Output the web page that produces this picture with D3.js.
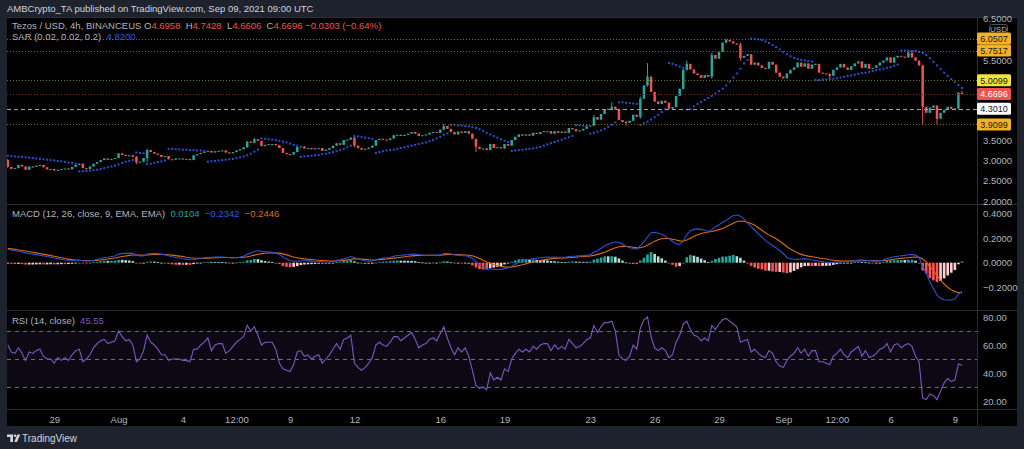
<!DOCTYPE html>
<html><head><meta charset="utf-8">
<script src="https://cdn.jsdelivr.net/npm/d3@7"></script>
<style>
html,body{margin:0;padding:0;background:#1e222d;}
svg{display:block;}
</style></head><body>
<svg id="c" width="1024" height="449"></svg>
<script>
// ---------------- DATA ----------------
const startTime = Date.UTC(2021, 6, 26, 20); // first 4h candle
const firstOpen = 3.02;
const closes = [
2.85,2.80,2.82,2.90,2.86,2.78,2.86,2.85,2.88,2.90,
2.84,2.79,2.80,2.76,2.78,2.80,2.81,2.79,2.85,2.90,
2.93,2.82,2.80,2.86,2.93,2.97,3.02,3.06,3.03,3.05,
3.07,3.19,3.15,3.12,3.14,3.10,2.96,2.98,3.07,3.27,
3.22,3.18,3.15,3.10,3.12,3.04,3.03,3.06,3.06,3.04,
3.05,3.02,3.14,3.17,3.20,3.23,3.25,3.21,3.24,3.25,
3.26,3.21,3.19,3.22,3.26,3.29,3.34,3.48,3.45,3.54,
3.50,3.37,3.40,3.42,3.42,3.39,3.32,3.20,3.17,3.16,
3.22,3.35,3.36,3.31,3.32,3.29,3.31,3.32,3.25,3.28,
3.32,3.38,3.44,3.40,3.52,3.53,3.58,3.38,3.32,3.28,
3.30,3.33,3.38,3.52,3.55,3.53,3.52,3.56,3.64,3.65,
3.62,3.65,3.68,3.72,3.68,3.62,3.64,3.66,3.70,3.72,
3.70,3.78,3.87,3.80,3.72,3.66,3.73,3.70,3.74,3.68,
3.55,3.35,3.30,3.31,3.27,3.42,3.32,3.34,3.31,3.42,
3.38,3.52,3.60,3.66,3.63,3.66,3.63,3.70,3.67,3.72,
3.74,3.74,3.68,3.74,3.70,3.73,3.70,3.82,3.79,3.74,
3.76,3.80,3.86,3.88,4.09,4.03,4.17,4.28,4.30,4.35,
4.28,4.02,3.97,3.95,4.00,4.15,4.10,4.55,4.88,5.10,
4.72,4.48,4.42,4.50,4.45,4.30,4.34,4.62,4.80,5.27,
5.42,5.28,5.18,5.14,5.07,5.14,5.10,5.64,5.55,5.72,
5.95,6.02,5.98,5.93,5.90,5.57,5.62,5.66,5.40,5.45,
5.38,5.32,5.30,5.47,5.40,5.20,5.10,5.06,5.18,5.27,
5.33,5.45,5.35,5.43,5.30,5.40,5.42,5.20,5.18,5.17,
5.12,5.27,5.33,5.42,5.33,5.27,5.36,5.43,5.48,5.32,
5.42,5.30,5.32,5.38,5.45,5.50,5.58,5.45,5.58,5.62,
5.60,5.58,5.70,5.58,5.50,5.38,4.35,4.20,4.33,4.38,
4.05,4.20,4.27,4.35,4.30,4.31,4.6958,4.6696];
// notable wicks: [candle index, high, low]
const wicks = [
[0,3.05,2.83],[36,3.12,2.92],[39,3.30,2.97],[67,3.50,3.33],[69,3.58,3.44],
[97,3.60,3.34],[122,3.92,3.78],[131,3.55,3.22],[164,4.15,3.87],[169,4.46,4.28],
[173,4.00,3.88],[177,4.60,4.05],[179,5.44,4.85],[189,5.30,4.78],[190,5.50,5.25],
[197,5.70,5.05],[201,6.0507,5.93],[205,5.95,5.50],[230,5.18,5.05],[252,5.7517,5.58],
[256,5.40,3.91],[260,4.38,3.9099],[266,4.72,4.28],[267,4.7428,4.6606]];
const sar = [
3.13,3.12,3.11,3.10,3.10,3.09,3.08,3.07,3.06,3.05,3.04,3.03,3.02,3.01,3.00,2.99,2.97,2.96,2.95,2.93,
2.74,2.74,2.75,2.76,2.77,2.78,2.80,2.82,2.84,2.86,2.88,2.91,2.95,2.98,3.00,3.02,
3.21,3.20,3.19,
2.92,2.93,2.95,2.97,2.99,3.01,
3.30,3.30,3.29,3.29,3.28,3.28,3.27,3.27,3.26,3.26,3.25,
2.98,2.99,3.00,3.01,3.02,3.03,3.04,3.05,3.07,3.09,3.11,3.14,3.18,3.23,3.28,
3.56,3.55,3.54,3.53,3.52,3.50,3.48,3.46,3.43,3.40,3.38,
3.10,3.11,3.12,3.13,3.14,3.15,3.17,3.18,3.20,3.22,3.24,3.27,3.30,3.34,3.38,
3.62,3.61,3.60,3.58,3.57,3.55,
3.20,3.22,3.24,3.26,3.27,3.28,3.30,3.32,3.34,3.36,3.38,3.40,3.42,3.44,3.46,3.49,3.52,3.56,3.60,3.65,3.68,
3.90,3.90,3.89,3.88,3.87,3.86,3.84,3.82,3.79,3.75,3.70,3.66,3.62,3.58,3.54,3.50,3.47,
3.25,3.26,3.27,3.28,3.29,3.30,3.31,3.33,3.35,3.38,3.41,3.44,3.47,3.50,3.53,3.56,3.59,3.62,
3.89,3.89,3.88,3.88,
3.68,3.70,3.73,3.76,3.80,3.85,3.90,3.96,
4.46,4.46,4.45,4.44,4.43,4.42,
3.90,3.94,3.98,4.03,4.09,4.15,4.22,4.29,
5.44,5.42,5.39,5.35,5.32,
4.28,4.30,4.36,4.42,4.47,4.52,4.57,4.62,4.68,4.74,4.80,4.88,4.98,5.08,5.18,5.30,5.43,5.52,
6.05,6.04,6.03,6.01,5.98,5.94,5.89,5.84,5.78,5.72,5.66,5.61,5.57,5.54,5.52,5.50,5.49,5.48,
5.02,5.02,5.03,5.03,5.04,5.05,5.06,5.08,5.10,5.12,5.13,5.15,5.17,5.19,5.20,5.22,5.24,5.26,5.28,5.30,5.32,5.34,5.37,5.40,
5.75,5.75,5.75,5.74,5.74,5.72,5.69,5.64,5.56,5.47,5.38,5.29,5.20,5.12,5.04,4.97,4.89,4.82];
const macdLine = [
.110,.104,.098,.094,.088,.080,.075,.070,.066,.062,
.056,.050,.045,.038,.033,.028,.022,.018,.016,.018,
.020,.016,.014,.016,.020,.026,.034,.042,.045,.050,
.055,.068,.074,.076,.078,.076,.062,.055,.056,.070,
.075,.076,.074,.068,.064,.056,.048,.042,.038,.032,
.028,.024,.026,.030,.034,.040,.044,.045,.046,.047,
.046,.044,.040,.040,.042,.046,.052,.068,.078,.092,
.098,.094,.090,.088,.084,.078,.068,.045,.030,.018,
.012,.012,.016,.016,.015,.013,.012,.012,.008,.006,
.008,.013,.020,.023,.032,.040,.050,.042,.032,.022,
.016,.013,.014,.024,.032,.037,.040,.045,.053,.059,
.061,.064,.067,.071,.070,.065,.062,.060,.061,.062,
.061,.065,.075,.076,.071,.063,.062,.058,.057,.050,
.035,.008,-.018,-.035,-.050,-.050,-.055,-.056,-.057,-.048,
-.043,-.028,-.012,.004,.013,.022,.026,.033,.036,.041,
.045,.047,.045,.046,.044,.044,.045,.050,.053,.054,
.057,.058,.060,.064,.085,.100,.118,.138,.150,.163,
.171,.165,.150,.135,.122,.116,.110,.140,.170,.210,
.245,.248,.240,.232,.215,.195,.175,.152,.150,.175,
.230,.262,.272,.276,.272,.265,.255,.270,.292,.310,
.330,.345,.365,.385,.389,.380,.355,.325,.294,.265,
.235,.210,.180,.160,.140,.120,.100,.075,.045,.033,
.028,.027,.030,.033,.028,.022,.018,.012,.008,.004,
.000,.002,.005,.008,.008,.008,.012,.018,.022,.022,
.020,.018,.014,.013,.015,.022,.035,.043,.048,.053,
.057,.060,.065,.068,.062,.043,-.033,-.085,-.155,-.210,
-.264,-.290,-.302,-.304,-.304,-.296,-.256,-.2342];
const signalLine = [
.117,.113,.109,.104,.100,.095,.090,.085,.080,.075,
.070,.064,.058,.052,.046,.040,.034,.029,.025,.022,
.020,.018,.016,.016,.017,.019,.022,.026,.030,.034,
.038,.044,.050,.055,.060,.063,.063,.062,.061,.063,
.065,.067,.068,.068,.067,.065,.062,.058,.054,.050,
.045,.041,.038,.036,.035,.036,.037,.038,.040,.041,
.042,.042,.042,.041,.041,.042,.044,.049,.055,.062,
.069,.074,.077,.079,.080,.080,.078,.072,.064,.055,
.046,.040,.035,.031,.028,.025,.022,.020,.018,.016,
.014,.014,.015,.016,.019,.023,.028,.031,.031,.029,
.027,.024,.022,.023,.025,.027,.030,.033,.037,.041,
.045,.048,.052,.056,.058,.060,.060,.060,.061,.061,
.061,.062,.064,.067,.068,.067,.066,.064,.063,.061,
.056,.047,.034,.020,.006,-.005,-.015,-.023,-.030,-.034,
-.036,-.035,-.030,-.023,-.016,-.008,-.001,.006,.012,.018,
.023,.028,.031,.034,.036,.038,.039,.041,.043,.045,
.049,.051,.053,.055,.060,.068,.076,.086,.098,.110,
.122,.130,.133,.133,.130,.126,.121,.122,.130,.142,
.158,.176,.188,.196,.198,.198,.192,.185,.178,.175,
.185,.200,.215,.228,.238,.245,.250,.255,.262,.270,
.280,.294,.308,.322,.336,.340,.338,.330,.320,.305,
.285,.265,.245,.225,.212,.195,.175,.155,.130,.112,
.095,.080,.068,.060,.054,.049,.044,.039,.034,.030,
.024,.020,.017,.015,.014,.013,.013,.014,.015,.016,
.017,.017,.017,.016,.016,.017,.020,.024,.028,.032,
.035,.038,.041,.044,.046,.045,.030,.005,-.030,-.066,
-.105,-.142,-.174,-.200,-.222,-.236,-.243,-.2446];
const rsi = [
60,55,54,58,54,49,55,54,56,57, 52,50,50,47,51,49,51,49,53,56,
57,48,50,53,58,61,63,64,61,62, 63,70,66,63,64,60,48,50,56,67,
62,60,57,53,53,49,50,50,50,49, 49,48,57,57,60,62,65,56,60,61,
61,54,56,59,62,64,66,74,70,73, 67,60,62,62,62,57,47,43,42,41,
46,55,56,52,53,50,52,53,47,50, 53,57,61,57,64,65,67,47,44,42,
44,47,51,60,62,60,59,62,66,66, 63,65,67,69,64,58,60,61,64,65,
63,68,73,65,58,53,58,55,58,52, 42,31,29,30,28,40,35,37,35,43,
41,50,54,57,55,57,55,59,57,60, 61,61,56,60,57,59,57,64,61,58,
59,61,64,65,74,69,73,76,76,77, 70,53,50,49,52,60,57,72,78,80,
66,58,56,58,56,51,53,62,67,75, 77,71,67,66,63,65,63,74,71,75,
78,79,77,75,73,62,63,64,55,57, 54,52,51,56,54,48,45,44,49,52,
54,58,54,57,52,56,56,48,48,47, 46,52,54,57,53,51,55,57,59,52,
56,51,52,54,57,58,61,55,60,61, 58,60,61,59,52,48,22,21,25,24,
21,27,33,36,34,35,46.4,45.55];
const levelValues = [6.0507, 5.7517, 5.0099, 3.9099];
const markerValue = 4.3010;
const lastPrice = 4.6696;
const priceTicks = [2, 2.5, 3, 3.5, 4, 4.5, 5, 5.5, 6, 6.5];
const macdTicks = [-0.2, 0, 0.2, 0.4];
const rsiTicks = [20, 40, 60, 80];
const rsiBands = [70, 50, 30];
const timeTickDates = ["2021-07-29T00:00Z","2021-08-01T00:00Z","2021-08-04T00:00Z","2021-08-06T12:00Z","2021-08-09T00:00Z","2021-08-12T00:00Z","2021-08-16T00:00Z","2021-08-19T00:00Z","2021-08-23T00:00Z","2021-08-26T00:00Z","2021-08-29T00:00Z","2021-09-01T00:00Z","2021-09-03T12:00Z","2021-09-06T00:00Z","2021-09-09T00:00Z"];
const timeTickLabels = ["29","Aug","4","12:00","9","12","16","19","23","26","29","Sep","12:00","6","9"];

// ---------------- LAYOUT / STYLE ----------------
const W = 1024, H = 449;
const PL = 7, PR = 977, AXR = 1017;
const T0 = 17, B1 = 204, B2 = 310, B3 = 409, B4 = 426;
const UP = "#26a69a", DN = "#ef5350";
const FONT = "'Liberation Sans Narrow','Liberation Sans',Arial,sans-serif";
const FS = 9.5;
const TXT = "#b2b5be";

const svg = d3.select("#c");
svg.append("rect").attr("width", W).attr("height", H).attr("fill", "#1e222d");
svg.append("rect").attr("x", PL).attr("y", T0).attr("width", AXR - PL).attr("height", B4 - T0).attr("fill", "#000");

const defs = svg.append("defs");
[[1, T0, B1], [2, B1, B2], [3, B2, B3]].forEach(([k, a, b]) => {
  defs.append("clipPath").attr("id", "cp" + k).append("rect")
    .attr("x", PL).attr("y", a).attr("width", PR - PL).attr("height", b - a);
});

const n = closes.length;
const dates = closes.map((_, i) => new Date(startTime + i * 4 * 3600e3));
const opens = closes.map((c, i) => i ? closes[i - 1] : firstOpen);
const wm = new Map(wicks.map(w => [w[0], w]));
const highs = closes.map((c, i) => wm.has(i) ? wm.get(i)[1] : Math.max(c, opens[i]));
const lows = closes.map((c, i) => wm.has(i) ? wm.get(i)[2] : Math.min(c, opens[i]));

const x = d3.scaleUtc().domain([dates[0], dates[n - 1]]).range([7.75, 962]);
const yP = d3.scaleLinear().domain([2, 6.5]).range([201, 20.55]);
const yM = d3.scaleLinear().domain([-0.2, 0.4]).range([287.2, 213.7]);
const yR = d3.scaleLinear().domain([20, 80]).range([401, 317]);

// separators
const sep = svg.append("g").attr("stroke", "#2a2e39").attr("stroke-width", 1);
[T0 + 0.5, B1 + 0.5, B2 + 0.5, B3 + 0.5].forEach(y => sep.append("line").attr("x1", PL).attr("x2", AXR).attr("y1", y).attr("y2", y));
sep.append("line").attr("x1", PR + 0.5).attr("x2", PR + 0.5).attr("y1", T0).attr("y2", B4);

// ---------- price pane ----------
const gP = svg.append("g").attr("clip-path", "url(#cp1)");
const bw = 2.5;
gP.selectAll("line.wk").data(d3.range(n)).join("line")
  .attr("x1", i => x(dates[i])).attr("x2", i => x(dates[i]))
  .attr("y1", i => yP(highs[i])).attr("y2", i => yP(lows[i]))
  .attr("stroke", i => closes[i] >= opens[i] ? UP : DN).attr("stroke-width", 1);
gP.selectAll("rect.bd").data(d3.range(n)).join("rect")
  .attr("x", i => x(dates[i]) - bw / 2).attr("width", bw)
  .attr("y", i => yP(Math.max(opens[i], closes[i])))
  .attr("height", i => Math.max(1, Math.abs(yP(opens[i]) - yP(closes[i]))))
  .attr("fill", i => closes[i] >= opens[i] ? UP : DN);
gP.selectAll("rect.sar").data(d3.range(n)).join("rect")
  .attr("x", i => x(dates[i]) - 1).attr("y", i => yP(sar[i]) - 1)
  .attr("width", 2).attr("height", 2).attr("fill", "#2a4fd6");

// level lines
const levelLine = ["#7d6416", "#7d6416", "#7a7318", "#7d6416"];
levelValues.forEach((v, k) => {
  gP.append("line").attr("x1", PL).attr("x2", PR).attr("y1", Math.round(yP(v)) + 0.5).attr("y2", Math.round(yP(v)) + 0.5)
    .attr("stroke", levelLine[k]).attr("stroke-dasharray", "1,2");
});
gP.append("line").attr("x1", PL).attr("x2", PR).attr("y1", Math.round(yP(lastPrice)) + 0.5).attr("y2", Math.round(yP(lastPrice)) + 0.5)
  .attr("stroke", "#7a2222").attr("stroke-dasharray", "1,2");
gP.append("line").attr("x1", PL).attr("x2", PR).attr("y1", Math.round(yP(markerValue)) + 0.5).attr("y2", Math.round(yP(markerValue)) + 0.5)
  .attr("stroke", "#9ea1a8").attr("stroke-width", 1.2).attr("stroke-dasharray", "4,3");

// ---------- MACD pane ----------
const gM = svg.append("g").attr("clip-path", "url(#cp2)");
const hist = macdLine.map((m, i) => m - signalLine[i]);
const hcol = (h, i) => {
  const p = i ? hist[i - 1] : h;
  if (h >= 0) return h > p ? "#26a69a" : "#b2dfdb";
  return h < p ? "#ff5252" : "#ffcdd2";
};
gM.selectAll("rect.h").data(d3.range(n)).join("rect")
  .attr("x", i => x(dates[i]) - 1.3).attr("width", 2.6)
  .attr("y", i => Math.min(yM(0), yM(hist[i])))
  .attr("height", i => Math.max(0.8, Math.abs(yM(hist[i]) - yM(0))))
  .attr("fill", i => hcol(hist[i], i));
const lineM = arr => d3.line().x((d, i) => x(dates[i])).y(d => yM(d))(arr);
gM.append("path").attr("d", lineM(signalLine)).attr("fill", "none").attr("stroke", "#e06a10").attr("stroke-width", 1.1);
gM.append("path").attr("d", lineM(macdLine)).attr("fill", "none").attr("stroke", "#2f50d8").attr("stroke-width", 1.1);

// ---------- RSI pane ----------
const gR = svg.append("g").attr("clip-path", "url(#cp3)");
gR.append("rect").attr("x", PL).attr("width", PR - PL).attr("y", yR(70)).attr("height", yR(30) - yR(70))
  .attr("fill", "rgba(126,87,194,0.10)");
rsiBands.forEach(v => gR.append("line").attr("x1", PL).attr("x2", PR).attr("y1", Math.round(yR(v)) + 0.5).attr("y2", Math.round(yR(v)) + 0.5)
  .attr("stroke", "#6a6d78").attr("stroke-dasharray", "4,4"));
gR.append("path").attr("d", d3.line().x((d, i) => x(dates[i])).y(d => yR(d))(rsi))
  .attr("fill", "none").attr("stroke", "#7e57c2").attr("stroke-width", 1.1);

// ---------- axes ----------
function styleAxis(g) {
  g.select(".domain").remove();
  g.selectAll("line").remove();
  g.selectAll("text").attr("fill", TXT).attr("font-family", FONT).attr("font-size", FS);
}
// price ticks hidden behind the axis badges are not drawn
const badgeYs = levelValues.concat([markerValue, lastPrice]).map(v => yP(v));
const visiblePriceTicks = priceTicks.filter(t => badgeYs.every(b => Math.abs(yP(t) - b) > 9));
const pAx = svg.append("g").attr("transform", `translate(${PR},0)`)
  .call(d3.axisRight(yP).tickValues(visiblePriceTicks).tickFormat(d3.format(".4f")).tickSize(0).tickPadding(6)).call(styleAxis);
// top tick sits at the pane edge, just above the currency badge
pAx.selectAll(".tick").filter(d => d === 6.5).select("text").attr("dy", "0.05em");
svg.append("g").attr("transform", `translate(${PR},0)`)
  .call(d3.axisRight(yM).tickValues(macdTicks).tickFormat(v => (v < 0 ? "\u2212" : "") + Math.abs(v).toFixed(4)).tickSize(0).tickPadding(6)).call(styleAxis);
svg.append("g").attr("transform", `translate(${PR},0)`)
  .call(d3.axisRight(yR).tickValues(rsiTicks).tickFormat(v => v.toFixed(2)).tickSize(0).tickPadding(6)).call(styleAxis);
svg.append("g").attr("transform", `translate(0,${B3 + 2})`)
  .call(d3.axisBottom(x).tickValues(timeTickDates.map(d => new Date(d))).tickFormat((d, i) => timeTickLabels[i]).tickSize(0).tickPadding(5)).call(styleAxis);

// USD badge
svg.append("rect").attr("x", 989.5).attr("y", 24.5).attr("width", 18).attr("height", 9).attr("rx", 2)
  .attr("fill", "#000").attr("stroke", "#50535e");
svg.append("text").attr("x", 998.5).attr("y", 31.6).attr("text-anchor", "middle").attr("fill", TXT)
  .attr("font-family", FONT).attr("font-size", 8).text("USD");

// price labels on axis
const labelStyles = [
  {bg: "#f5b120", fg: "#131722"}, {bg: "#f5b120", fg: "#131722"},
  {bg: "#f2e33a", fg: "#131722"}, {bg: "#f5b120", fg: "#131722"}];
function priceLabel(v, bg, fg) {
  const yy = yP(v);
  svg.append("rect").attr("x", PR).attr("y", yy - 6).attr("width", 34).attr("height", 12).attr("rx", 1.5).attr("fill", bg);
  svg.append("text").attr("x", PR + 17).attr("y", yy + 3.3).attr("text-anchor", "middle").attr("fill", fg)
    .attr("font-family", FONT).attr("font-size", 9).text(v.toFixed(4));
}
levelValues.forEach((v, k) => priceLabel(v, labelStyles[k].bg, labelStyles[k].fg));
priceLabel(markerValue, "#ffffff", "#131722");
priceLabel(lastPrice, "#ef5350", "#ffffff");

// ---------- texts ----------
svg.append("text").attr("x", 7).attr("y", 12).attr("fill", "#d1d4dc").attr("font-family", FONT).attr("font-size", 9.5)
  .text("AMBCrypto_TA published on TradingView.com, Sep 09, 2021 09:00 UTC");

function legend(y, parts) {
  const t = svg.append("text").attr("x", 12).attr("y", y).attr("font-family", FONT).attr("font-size", FS).attr("xml:space", "preserve");
  parts.forEach(([s, c]) => t.append("tspan").attr("fill", c).text(s));
}
legend(29, [["Tezos / USD, 4h, BINANCEUS ", TXT], ["O", TXT], ["4.6958", DN], ["  H", TXT], ["4.7428", DN], ["  L", TXT], ["4.6606", DN],
  ["  C", TXT], ["4.6696", DN], [" \u22120.0303 (\u22120.64%)", DN]]);
legend(40, [["SAR (0.02, 0.02, 0.2)  ", TXT], ["4.8200", "#2f5ae8"]]);
legend(217, [["MACD (12, 26, close, 9, EMA, EMA)  ", TXT], ["0.0104", "#26a69a"], ["  \u22120.2342", "#2f5ae8"], ["  \u22120.2446", "#e06a10"]]);
legend(324, [["RSI (14, close)  ", TXT], ["45.55", "#7e57c2"]]);

// TradingView logo
const lg = svg.append("g").attr("fill", "#d1d4dc");
lg.append("path").attr("d", "M7,434.5 H13 V442 H10.3 V437 H7 Z");
lg.append("circle").attr("cx", 15).attr("cy", 435.8).attr("r", 1.3);
lg.append("path").attr("d", "M14.2,442 L17.4,434.5 H20.2 L17,442 Z");
svg.append("text").attr("x", 22).attr("y", 442).attr("fill", "#d1d4dc").attr("font-family", FONT).attr("font-size", 10).text("TradingView");
</script>
</body></html>
